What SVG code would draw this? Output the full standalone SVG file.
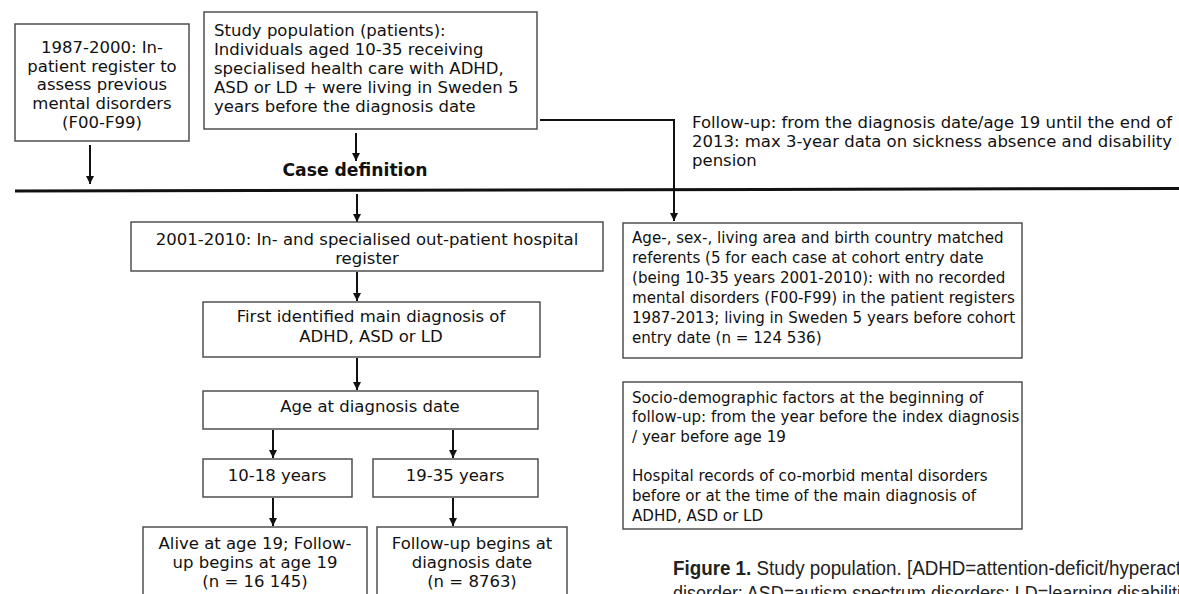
<svg xmlns="http://www.w3.org/2000/svg" width="1179" height="594" viewBox="0 0 1179 594">
<style>
.box{fill:#fff;stroke:#444;stroke-width:1.4}
.t{font-family:"DejaVu Sans",Verdana,sans-serif;font-size:16.5px;fill:#111}
.s{font-size:15.1px}
.c{text-anchor:middle}
.b{font-weight:bold;font-size:17.2px}
.con{stroke:#111;stroke-width:2;fill:none}
.cap{font-family:"Liberation Sans Narrow","Liberation Sans",Arial,sans-serif;font-size:20px;fill:#222}
</style>
<defs>
<marker id="ah" markerUnits="userSpaceOnUse" markerWidth="9" markerHeight="9" refX="8" refY="4" orient="auto">
<path d="M0,0 L8,4 L0,8 z" fill="#111"/>
</marker>
</defs>
<rect width="1179" height="594" fill="#fff"/>
<g id="connectors">
<line x1="15" y1="191" x2="1179" y2="188.5" stroke="#111" stroke-width="3"/>
<line class="con" x1="90" y1="145" x2="90" y2="184" marker-end="url(#ah)"/>
<line class="con" x1="356" y1="133" x2="356" y2="161" marker-end="url(#ah)"/>
<line class="con" x1="357" y1="194" x2="357" y2="222" marker-end="url(#ah)"/>
<line class="con" x1="357" y1="272" x2="357" y2="301" marker-end="url(#ah)"/>
<line class="con" x1="357" y1="358" x2="357" y2="390" marker-end="url(#ah)"/>
<line class="con" x1="273" y1="430" x2="273" y2="458" marker-end="url(#ah)"/>
<line class="con" x1="453" y1="430" x2="453" y2="458" marker-end="url(#ah)"/>
<line class="con" x1="273" y1="498" x2="273" y2="526" marker-end="url(#ah)"/>
<line class="con" x1="453" y1="498" x2="453" y2="526" marker-end="url(#ah)"/>
<path class="con" d="M540,120 H674 V221" marker-end="url(#ah)"/>
</g>
<g id="n-inpatient">
<rect class="box" x="15" y="24" width="174" height="117"/>
<text class="t c" x="102" y="53">1987-2000: In-</text>
<text class="t c" x="102" y="71.5">patient register to</text>
<text class="t c" x="102" y="90">assess previous</text>
<text class="t c" x="102" y="109">mental disorders</text>
<text class="t c" x="102" y="128">(F00-F99)</text>
</g>
<g id="n-study">
<rect class="box" x="204" y="12" width="333" height="117"/>
<text class="t" x="214" y="36">Study population (patients):</text>
<text class="t" x="214" y="55">Individuals aged 10-35 receiving</text>
<text class="t" x="214" y="74">specialised health care with ADHD,</text>
<text class="t" x="214" y="93">ASD or LD + were living in Sweden 5</text>
<text class="t" x="214" y="112">years before the diagnosis date</text>
</g>
<g id="n-case">
<text class="t c b" x="355" y="176">Case definition</text>
</g>
<g id="n-followup">
<text class="t" x="692" y="128">Follow-up: from the diagnosis date/age 19 until the end of</text>
<text class="t" x="692" y="147">2013: max 3-year data on sickness absence and disability</text>
<text class="t" x="692" y="166">pension</text>
</g>
<g id="n-register">
<rect class="box" x="131" y="222" width="472" height="49"/>
<text class="t c" x="367" y="245">2001-2010: In- and specialised out-patient hospital</text>
<text class="t c" x="367" y="264">register</text>
</g>
<g id="n-first">
<rect class="box" x="203" y="302" width="337" height="55"/>
<text class="t c" x="371" y="322">First identified main diagnosis of</text>
<text class="t c" x="371" y="342">ADHD, ASD or LD</text>
</g>
<g id="n-age">
<rect class="box" x="203" y="391" width="335" height="38"/>
<text class="t c" x="370" y="412">Age at diagnosis date</text>
</g>
<g id="n-1018">
<rect class="box" x="203" y="459" width="149" height="38"/>
<text class="t c" x="277" y="481">10-18 years</text>
</g>
<g id="n-1935">
<rect class="box" x="373" y="459" width="165" height="38"/>
<text class="t c" x="455" y="481">19-35 years</text>
</g>
<g id="n-alive">
<rect class="box" x="143" y="527" width="224" height="80"/>
<text class="t c" x="255" y="549">Alive at age 19; Follow-</text>
<text class="t c" x="255" y="568">up begins at age 19</text>
<text class="t c" x="255" y="587">(n = 16 145)</text>
</g>
<g id="n-fu-diag">
<rect class="box" x="377" y="527" width="190" height="80"/>
<text class="t c" x="472" y="549">Follow-up begins at</text>
<text class="t c" x="472" y="568">diagnosis date</text>
<text class="t c" x="472" y="587">(n = 8763)</text>
</g>
<g id="n-referents">
<rect class="box" x="623" y="223" width="399" height="135"/>
<text class="t s" x="632" y="243">Age-, sex-, living area and birth country matched</text>
<text class="t s" x="632" y="263">referents (5 for each case at cohort entry date</text>
<text class="t s" x="632" y="283">(being 10-35 years 2001-2010): with no recorded</text>
<text class="t s" x="632" y="303">mental disorders (F00-F99) in the patient registers</text>
<text class="t s" x="632" y="323">1987-2013; living in Sweden 5 years before cohort</text>
<text class="t s" x="632" y="343">entry date (n = 124 536)</text>
</g>
<g id="n-socio">
<rect class="box" x="623" y="382" width="399" height="147"/>
<text class="t s" x="632" y="403">Socio-demographic factors at the beginning of</text>
<text class="t s" x="632" y="422">follow-up: from the year before the index diagnosis</text>
<text class="t s" x="632" y="442">/ year before age 19</text>
<text class="t s" x="632" y="481">Hospital records of co-morbid mental disorders</text>
<text class="t s" x="632" y="500.5">before or at the time of the main diagnosis of</text>
<text class="t s" x="632" y="520.5">ADHD, ASD or LD</text>
</g>
<g id="caption">
<text class="cap" x="673" y="575" textLength="508" lengthAdjust="spacingAndGlyphs"><tspan font-weight="bold">Figure 1.</tspan> Study population. [ADHD=attention-deficit/hyperact</text>
<text class="cap" x="673" y="600" textLength="508" lengthAdjust="spacingAndGlyphs">disorder; ASD=autism spectrum disorders; LD=learning disabiliti</text>
</g>
</svg>
